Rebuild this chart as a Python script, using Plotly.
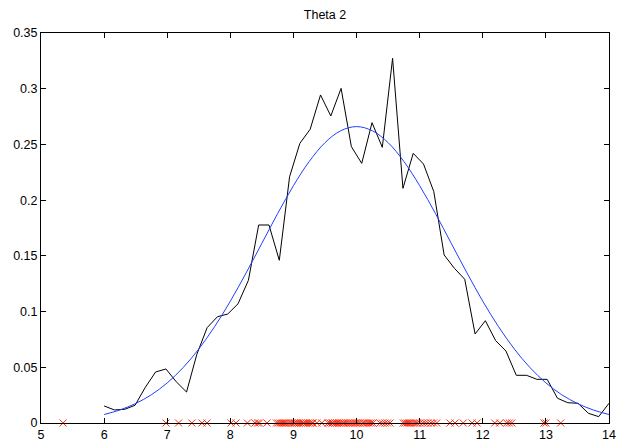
import plotly.graph_objects as go

# Empirical density (black line)
hist_x = [6.000, 6.163, 6.327, 6.490, 6.653, 6.816, 6.980, 7.143, 7.306, 7.469,
          7.633, 7.796, 7.959, 8.122, 8.286, 8.449, 8.612, 8.776, 8.939, 9.102,
          9.265, 9.429, 9.592, 9.755, 9.918, 10.082, 10.245, 10.408, 10.571, 10.735,
          10.898, 11.061, 11.224, 11.388, 11.551, 11.714, 11.878, 12.041, 12.204, 12.367,
          12.531, 12.694, 12.857, 13.020, 13.184, 13.347, 13.510, 13.673, 13.837, 14.000]
hist_y = [0.0153, 0.0117, 0.0123, 0.0159, 0.032, 0.0458, 0.0485, 0.037, 0.0278, 0.0616,
          0.0856, 0.0954, 0.0978, 0.107, 0.128, 0.1777, 0.1777, 0.146, 0.221, 0.251,
          0.2636, 0.2944, 0.2755, 0.3003, 0.248, 0.233, 0.2695, 0.2474, 0.3273, 0.2106,
          0.242, 0.2324, 0.2076, 0.1508, 0.1388, 0.129, 0.0799, 0.0918, 0.0739, 0.0646,
          0.0428, 0.0428, 0.0392, 0.0392, 0.0222, 0.0182, 0.0177, 0.0087, 0.0057, 0.0177]

# Fitted curve (blue)
fit_x = [6.0, 6.25, 6.5, 6.75, 7.0, 7.25, 7.5, 7.75, 8.0, 8.25, 8.5, 8.75, 9.0, 9.25,
         9.5, 9.75, 10.0, 10.25, 10.5, 10.75, 11.0, 11.25, 11.5, 11.75, 12.0, 12.25,
         12.5, 12.75, 13.0, 13.25, 13.5, 13.75, 14.0]
fit_y = [0.0076, 0.0117, 0.0175, 0.0254, 0.0360, 0.0496, 0.0664, 0.0864, 0.1093, 0.1347,
         0.1613, 0.1880, 0.2130, 0.2347, 0.2516, 0.2623, 0.2660, 0.2623, 0.2516, 0.2347,
         0.2130, 0.1880, 0.1613, 0.1347, 0.1093, 0.0864, 0.0664, 0.0496, 0.0360, 0.0254,
         0.0175, 0.0117, 0.0076]

# Samples (red crosses on the axis)
samples = [5.35, 6.98, 7.18, 7.39, 7.55, 7.63, 8.01, 8.09, 8.27, 8.39, 8.43, 8.46, 8.58,
           8.73, 8.76, 8.79, 8.82, 8.85, 8.88, 8.92, 8.95, 8.98, 9.01, 9.03, 9.06, 9.09,
           9.12, 9.15, 9.17, 9.20, 9.23, 9.26, 9.29, 9.31, 9.37, 9.45, 9.55, 9.58, 9.61,
           9.63, 9.66, 9.69, 9.72, 9.75, 9.78, 9.80, 9.83, 9.86, 9.89, 9.92, 9.95, 9.98,
           10.00, 10.03, 10.06, 10.10, 10.13, 10.17, 10.20, 10.23, 10.26, 10.37, 10.41,
           10.45, 10.49, 10.53, 10.74, 10.77, 10.80, 10.83, 10.86, 10.90, 10.93, 10.96,
           11.00, 11.05, 11.09, 11.13, 11.18, 11.22, 11.27, 11.48, 11.56, 11.69, 11.83,
           11.91, 12.19, 12.27, 12.38, 12.42, 12.46, 12.97, 13.00, 13.235]
sample_y = [0] * len(samples)

x_ticks = [5, 6, 7, 8, 9, 10, 11, 12, 13, 14]
y_ticks = [0, 0.05, 0.1, 0.15, 0.2, 0.25, 0.3, 0.35]
y_tick_labels = ["0", "0.05", "0.1", "0.15", "0.2", "0.25", "0.3", "0.35"]

fig = go.Figure()
fig.add_trace(go.Scatter(x=hist_x, y=hist_y, mode="lines",
                         line=dict(color="black", width=1), showlegend=False))
fig.add_trace(go.Scatter(x=fit_x, y=fit_y, mode="lines",
                         line=dict(color="#1f3fff", width=1, shape="spline"), showlegend=False))
fig.add_trace(go.Scatter(x=samples, y=sample_y, mode="markers",
                         marker=dict(symbol="x-thin-open", size=7, color="#ff2a10",
                                     line=dict(color="#ff2a10", width=1)),
                         showlegend=False, cliponaxis=False))

font = dict(family="Liberation Sans, Arial, Helvetica, sans-serif", size=12.5, color="black")

fig.update_layout(
    width=619, height=441,
    margin=dict(l=41, r=10, t=33, b=18, autoexpand=False),
    paper_bgcolor="white", plot_bgcolor="white",
    font=font,
    title=dict(text="Theta 2", x=0.5, xref="paper", xanchor="center",
               y=1 - 15 / 441, yref="container", yanchor="middle",
               font=dict(family=font["family"], size=12.5, color="black")),
)
fig.update_xaxes(range=[5, 14], tickmode="array", tickvals=x_ticks, automargin=False,
                 ticks="inside", ticklen=5, tickwidth=1, tickcolor="black",
                 showline=True, linecolor="black", linewidth=1, mirror="ticks",
                 showgrid=False, zeroline=False, tickfont=font)
fig.update_yaxes(range=[0, 0.35], tickmode="array", tickvals=y_ticks, ticktext=y_tick_labels,
                 automargin=False,
                 ticks="inside", ticklen=5, tickwidth=1, tickcolor="black",
                 showline=True, linecolor="black", linewidth=1, mirror="ticks",
                 showgrid=False, zeroline=False, tickfont=font)

fig.write_html("out.html")
